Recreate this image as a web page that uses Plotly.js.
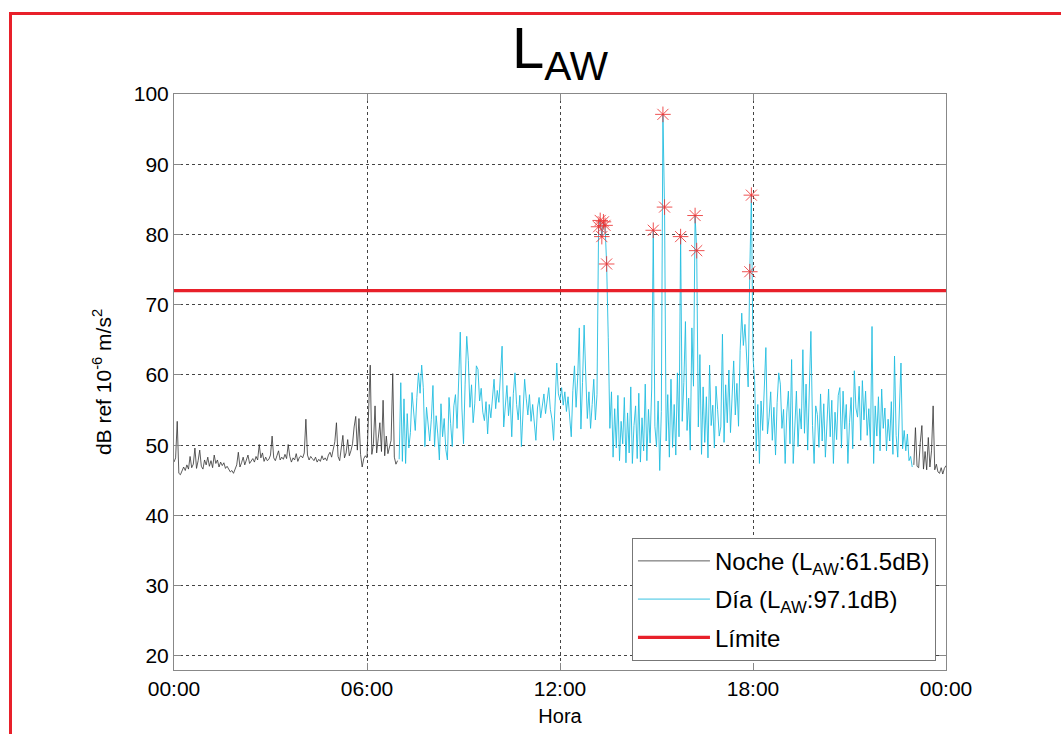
<!DOCTYPE html>
<html>
<head>
<meta charset="utf-8">
<script src="https://cdn.plot.ly/plotly-3.0.1.min.js"></script>
<style>
  html, body { margin: 0; padding: 0; background: #fff; overflow: hidden; }
  #chart { width: 1061px; height: 734px; }
  #frame { position: absolute; left: 9px; top: 12px; width: 1200px; height: 900px;
           border: 3px solid #e8202a; pointer-events: none; box-sizing: border-box; }
</style>
</head>
<body>
<div id="chart"></div>
<div id="frame"></div>
<script>
// ---- Data ----
const STEP_H = 0.05;            // sampling interval in hours (3 min)
const NIGHT1_START = 0.0;       // 00:00
const DAY_START = 7.0;          // 07:00
const NIGHT2_START = 23.0;      // 23:00
const LIMIT = 72;               // limit level, dB

const night1Values = [
  47.6,48.2,53.4,46.0,45.8,46.5,46.9,46.4,47.2,46.6,48.4,46.8,47.3,49.6,46.7,47.8,49.3,47.0,46.6,47.9,
  47.2,48.3,47.0,47.8,46.8,48.6,47.4,47.9,46.9,47.6,47.1,47.5,46.7,47.0,46.5,46.2,46.4,46.0,46.6,47.2,
  49.0,46.9,47.5,48.3,47.2,47.9,48.6,47.4,47.8,48.1,47.6,48.4,47.9,50.1,48.2,48.9,47.7,48.3,47.8,48.0,
  48.6,51.3,48.2,47.8,48.5,49.2,47.9,48.3,48.0,48.7,48.1,50.1,48.4,47.6,48.2,47.9,48.8,47.7,48.3,48.5,
  48.2,48.9,53.7,48.6,47.9,48.4,48.1,47.8,48.3,47.6,48.0,47.7,48.5,47.9,48.2,47.8,48.6,49.0,48.3,49.4,
  50.5,53.2,48.4,47.8,49.6,51.4,48.2,48.9,50.8,48.5,49.2,50.2,52.6,54.1,49.3,53.8,48.7,46.9,48.1,48.5,
  48.2,54.5,61.4,48.7,50.2,55.6,48.9,51.0,53.2,49.1,56.4,48.5,51.3,48.8,49.6,50.7,60.2,48.3,47.3,47.8
];

const dayValues = [
  // 07h
  48.0,58.9,47.7,56.6,47.4,54.5,49.6,51.8,57.5,55.2,52.1,56.8,60.3,57.4,61.4,58.2,49.8,55.4,52.3,50.6,
  // 08h
  53.7,58.5,49.8,54.2,51.6,47.9,55.9,51.2,53.8,49.4,47.9,56.8,53.1,49.8,55.6,57.2,52.4,59.8,66.1,55.3,
  // 09h
  50.2,58.7,65.5,62.1,55.4,58.6,53.2,55.9,61.3,60.8,56.3,58.1,54.7,53.5,56.2,51.6,55.8,53.9,57.2,59.4,
  // 10h
  55.2,57.8,56.1,59.6,64.1,52.6,56.4,58.5,54.2,56.9,51.2,57.4,60.3,55.8,53.6,57.1,49.8,55.2,59.4,56.7,
  // 11h
  54.3,57.2,53.4,55.8,52.6,50.7,55.3,56.8,53.9,55.6,57.3,54.5,56.2,58.2,55.1,53.7,50.7,56.4,61.7,57.3,
  // 12h
  56.4,58.2,55.7,57.6,54.8,56.9,53.2,51.2,57.8,61.3,55.4,59.6,66.7,52.3,58.9,67.1,60.1,53.8,57.6,52.4,
  // 13h
  55.8,59.4,53.6,57.2,81.1,82.0,79.7,81.8,81.3,75.8,65.3,52.4,57.6,48.3,55.2,49.6,57.1,47.8,53.4,50.2,
  // 14h
  56.8,47.5,54.6,48.9,58.3,47.4,52.8,55.6,48.1,57.4,47.6,53.9,49.2,58.7,47.8,55.1,50.3,58.0,80.6,52.7,
  // 15h
  49.8,56.3,46.4,54.8,97.1,83.9,50.6,57.2,48.3,59.4,49.7,55.8,48.6,60.3,51.2,79.7,53.4,58.9,67.6,52.1,
  // 16h
  56.7,49.3,66.7,58.4,82.7,77.7,52.6,62.9,48.7,58.3,50.4,56.9,48.2,61.4,52.8,55.7,49.6,58.4,55.1,51.3,
  // 17h
  52.6,65.8,50.4,58.6,53.2,60.7,51.8,57.4,62.0,54.3,58.8,52.7,63.5,68.8,64.2,67.2,61.4,58.3,74.7,85.6,
  // 18h
  62.5,59.2,49.2,55.8,47.4,56.3,52.1,58.2,63.9,51.6,54.0,57.6,50.7,55.4,48.6,56.1,60.3,58.7,52.4,55.1,
  // 19h
  47.4,54.6,57.7,50.2,62.2,47.4,53.8,57.7,49.8,55.2,52.3,63.6,51.7,58.7,49.3,56.4,66.2,52.8,47.4,55.6,
  // 20h
  54.4,49.7,57.3,50.6,55.9,48.3,53.6,58.0,51.2,56.4,47.4,54.7,50.8,57.1,58.2,49.6,57.7,52.3,55.8,47.4,
  // 21h
  53.2,56.8,49.5,60.6,55.3,54.0,58.4,50.7,59.2,53.6,57.7,51.4,55.2,49.8,66.9,47.4,55.6,51.3,56.9,49.2,
  // 22h
  58.0,52.4,55.3,49.2,53.7,50.6,56.2,48.7,62.7,51.4,48.3,54.6,61.7,49.5,52.1,49.2,51.6,47.8,48.4,46.9
];

const night2Values = [
  47.2,52.5,47.0,46.8,50.4,52.8,46.6,49.1,46.5,51.1,46.9,49.2,55.6,46.5,47.3,46.2,46.0,46.8,45.9,46.7,47.1
];

const xTickVals = [0, 6, 12, 18, 24];
const xTickText = ["00:00", "06:00", "12:00", "18:00", "00:00"];
const yTickVals = [20, 30, 40, 50, 60, 70, 80, 90, 100];

const labelNoche = "Noche (L<sub>AW</sub>:61.5dB)";
const labelDia = "Día (L<sub>AW</sub>:97.1dB)";
const labelLimite = "Límite";

// ---- Build traces ----
function times(start, n) { const t = []; for (let i = 0; i < n; i++) t.push(start + i * STEP_H); return t; }
const tN1 = times(NIGHT1_START, night1Values.length);
const tD = times(DAY_START, dayValues.length);
const tN2 = times(NIGHT2_START, night2Values.length);

const exX = [], exY = [];
dayValues.forEach((v, i) => { if (v > LIMIT) { exX.push(tD[i]); exY.push(v); } });

const FONT = "Liberation Sans, Arial, Helvetica, sans-serif";

const traces = [
  { x: tN1, y: night1Values, type: "scatter", mode: "lines", name: labelNoche,
    line: { color: "#333333", width: 0.8 }, legendgroup: "n" },
  { x: tN2, y: night2Values, type: "scatter", mode: "lines", name: labelNoche,
    line: { color: "#333333", width: 0.8 }, legendgroup: "n", showlegend: false },
  { x: tD, y: dayValues, type: "scatter", mode: "lines", name: labelDia,
    line: { color: "#22bde0", width: 0.9 }, legendgroup: "d" },
  { x: [0, 24], y: [LIMIT, LIMIT], type: "scatter", mode: "lines", name: labelLimite,
    line: { color: "#e8202a", width: 3.2 }, legendgroup: "l" },
  { x: exX, y: exY, type: "scatter", mode: "markers", showlegend: false,
    marker: { symbol: "asterisk-open", size: 13, color: "rgba(235,50,50,0.85)",
              line: { color: "rgba(235,50,50,0.85)", width: 1 } } }
];

const layout = {
  width: 1061, height: 734,
  margin: { l: 174, r: 115, t: 94, b: 64 },
  paper_bgcolor: "#ffffff", plot_bgcolor: "#ffffff",
  font: { family: FONT, size: 20, color: "#000" },
  title: { text: "L<sub>AW</sub>", font: { family: FONT, size: 58, color: "#000" },
           x: 0.5, xref: "paper", y: 1 - 48 / 734, yref: "container", yanchor: "middle" },
  showlegend: true,
  legend: { x: 0.987, y: 0.016, xanchor: "right", yanchor: "bottom",
            bgcolor: "#ffffff", bordercolor: "#777", borderwidth: 1,
            font: { family: FONT, size: 24, color: "#000" }, itemwidth: 72,
            tracegroupgap: 4 },
  xaxis: { range: [0, 24], tickvals: xTickVals, ticktext: xTickText,
           showgrid: true, gridcolor: "#444", griddash: "dot", gridwidth: 1,
           showline: true, linecolor: "#888", linewidth: 1, mirror: "ticks",
           ticks: "inside", ticklen: 7, tickcolor: "#888", zeroline: false,
           tickfont: { family: FONT, size: 21 },
           title: { text: "Hora", font: { family: FONT, size: 20 }, standoff: 9 } },
  yaxis: { range: [18, 100], tickvals: yTickVals,
           showgrid: true, gridcolor: "#444", griddash: "dot", gridwidth: 1,
           showline: true, linecolor: "#888", linewidth: 1, mirror: "ticks",
           ticks: "inside", ticklen: 7, tickcolor: "#888", zeroline: false,
           tickfont: { family: FONT, size: 21 },
           title: { text: "dB ref 10<sup>-6</sup> m/s<sup>2</sup>", font: { family: FONT, size: 21 }, standoff: 16 } }
};

Plotly.newPlot("chart", traces, layout, { displayModeBar: false, staticPlot: true });
</script>
</body>
</html>
